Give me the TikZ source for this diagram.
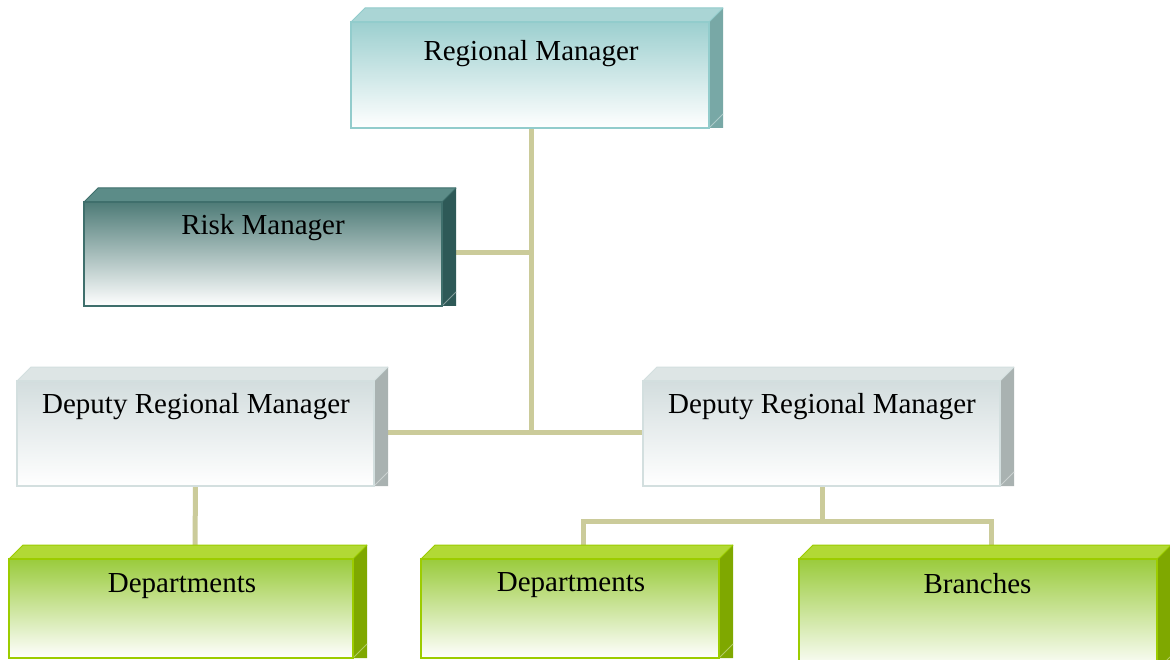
\documentclass[tikz,border=0pt]{standalone}
\usepackage{fontspec}
\setmainfont{Liberation Serif}
\usetikzlibrary{calc}
\definecolor{rmtop}{HTML}{AAD5D5}\definecolor{rmfront}{HTML}{9CCFCF}\definecolor{rmside}{HTML}{78A8A6}\definecolor{rmborder}{HTML}{92CCCC}
\definecolor{rktop}{HTML}{5C8C88}\definecolor{rkfront}{HTML}{4E7B77}\definecolor{rkside}{HTML}{2E5957}\definecolor{rkborder}{HTML}{3F6F6C}
\definecolor{dptop}{HTML}{DDE5E5}\definecolor{dpfront}{HTML}{D3DDDE}\definecolor{dpside}{HTML}{A9B2B1}\definecolor{dpborder}{HTML}{D3DFDF}
\definecolor{grtop}{HTML}{B2D935}\definecolor{grfront}{HTML}{9ACB3C}\definecolor{grside}{HTML}{7FA800}\definecolor{grborder}{HTML}{9CCC00}
\definecolor{connc}{HTML}{CBCB9A}
\tikzset{
  boxnode/.style={rectangle, inner sep=0pt, outer sep=0pt},
  lbl/.style={anchor=base, inner sep=0pt, font=\fontsize{29}{32}\selectfont},
  conn/.style={draw=connc, line width=5pt},
}
\newcommand\boxthreed[5]{%
  \fill[#2] ($(#1.north west)+(0,14)$) -- ($(#1.north west)+(14,0)$) -- (#1.north east) -- ($(#1.north east)+(-14,14)$) -- cycle;
  \shade[top color=#3, middle color=#3!30!white, bottom color=white] ($(#1.north west)+(0,14)$) rectangle ($(#1.south east)+(-14,0)$);
  \fill[#4] ($(#1.north east)+(-14,14)$) -- (#1.north east) -- (#1.south east) -- ($(#1.south east)+(-14,0)$) -- cycle;
  \draw[#4!60!white, line width=1pt] ($(#1.south east)+(-14,0)$) -- ($(#1.south east)+(0,-14)$);
  \draw[#5, line width=1pt] ($(#1.north west)+(0,14)$) -- ($(#1.north west)+(14,0)$) -- (#1.north east);
  \draw[#5, line width=1pt] ($(#1.north east)+(-14,14)$) -- (#1.north east);
  \draw[#5, line width=2pt] ($(#1.north west)+(0,14)$) rectangle ($(#1.south east)+(-14,0)$);
}
\begin{document}
\begin{tikzpicture}[x=1pt,y=-1pt]
\useasboundingbox (0,0) rectangle (1170,660);
\clip (0,0) rectangle (1170,660);
\fill[white] (0,0) rectangle (1170,660);
% boxes
\node[boxnode, minimum width=372pt, minimum height=120pt] (rm) at (537,68) {};
\node[boxnode, minimum width=372pt, minimum height=118pt] (risk) at (270,247) {};
\node[boxnode, minimum width=371pt, minimum height=119pt] (dl) at (202.5,426.5) {};
\node[boxnode, minimum width=371pt, minimum height=119pt] (dr) at (828.5,426.5) {};
\node[boxnode, minimum width=358pt, minimum height=113pt] (dll) at (188,601.5) {};
\node[boxnode, minimum width=312pt, minimum height=113pt] (dm) at (577,601.5) {};
\node[boxnode, minimum width=372pt, minimum height=125pt] (br) at (985,607.5) {};
% connectors
\coordinate (hub) at (531,432);
\coordinate (rj) at (531,253);
\draw[conn] ($(rm.south)+(-6,0)$) -- (hub);
\draw[conn] ($(risk.east)+(0,6)$) -- (rj);
\draw[conn] ($(dl.east)+(0,5.5)$) -- ($(dr.west)+(0,5.5)$);
\draw[conn] ($(dl.south)+(-7,0)$) -- ($(dll.north)+(7,0)$);
\coordinate (bj) at (822,521);
\draw[conn] ($(dr.south)+(-6.5,0)$) -- (bj);
\draw[conn] ($(dm.north)+(6,0)$) |- (bj) -| ($(br.north)+(6.5,0)$);
% 3D faces
\boxthreed{rm}{rmtop}{rmfront}{rmside}{rmborder}
\boxthreed{risk}{rktop}{rkfront}{rkside}{rkborder}
\boxthreed{dl}{dptop}{dpfront}{dpside}{dpborder}
\boxthreed{dr}{dptop}{dpfront}{dpside}{dpborder}
\boxthreed{dll}{grtop}{grfront}{grside}{grborder}
\boxthreed{dm}{grtop}{grfront}{grside}{grborder}
\boxthreed{br}{grtop}{grfront}{grside}{grborder}
% labels
\node[lbl] (rm-t) at (531,61) {Regional Manager};
\node[lbl] (risk-t) at (263,235) {Risk Manager};
\node[lbl] (dl-t) at (196,413) {Deputy Regional Manager};
\node[lbl] (dr-t) at (822,413) {Deputy Regional Manager};
\node[lbl] (dll-t) at (182,592) {Departments};
\node[lbl] (dm-t) at (571,591) {Departments};
\node[lbl] (br-t) at (977.5,593) {Branches};
\end{tikzpicture}
\end{document}
